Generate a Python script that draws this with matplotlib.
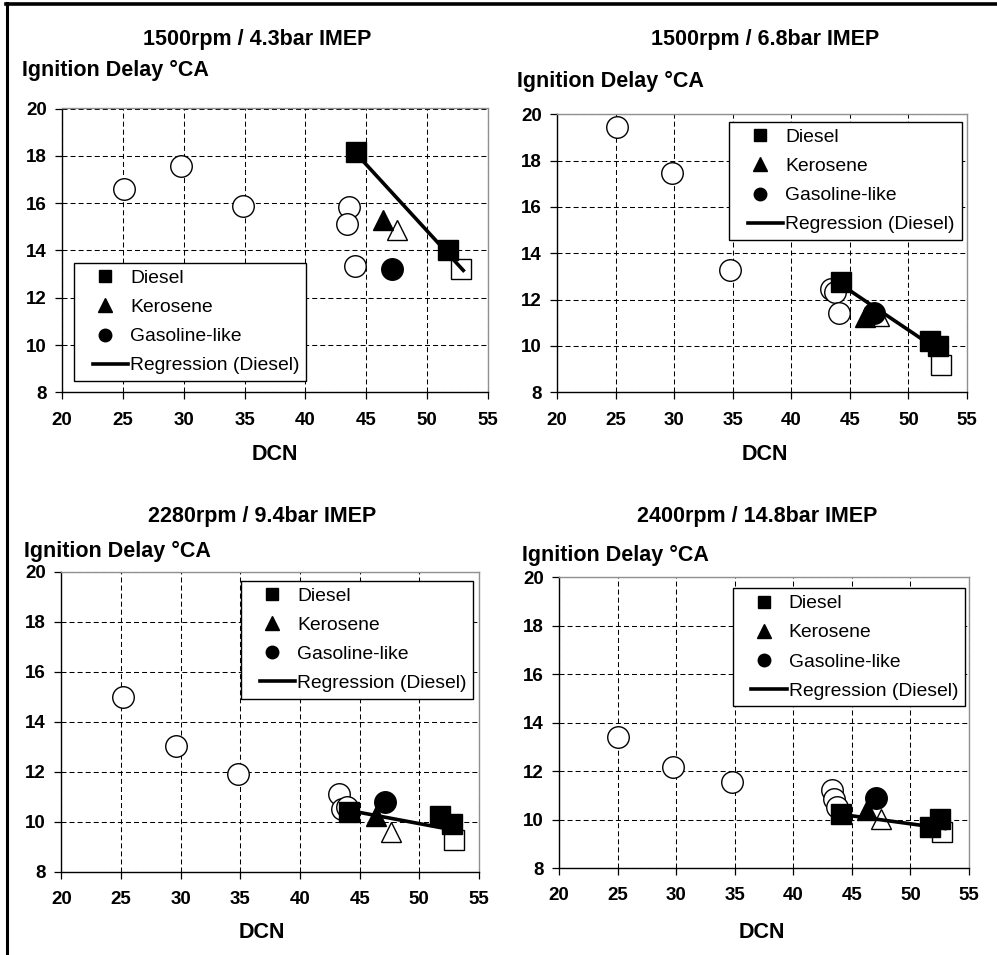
import matplotlib
matplotlib.use("Agg")
import numpy as np
import matplotlib.pyplot as plt
from matplotlib.lines import Line2D
from matplotlib.legend_handler import HandlerLine2D

plt.rcParams['font.family'] = ['Liberation Sans', 'DejaVu Sans']
plt.rcParams['lines.scale_dashes'] = False

W, H = 997, 955

titles = ["1500rpm / 4.3bar IMEP", "1500rpm / 6.8bar IMEP",
          "2280rpm / 9.4bar IMEP", "2400rpm / 14.8bar IMEP"]
ylabel_text = "Ignition Delay °CA"
xlabel_text = "DCN"
x_ticks = [20, 25, 30, 35, 40, 45, 50, 55]
y_ticks = [8, 10, 12, 14, 16, 18, 20]
legend_labels = ["Diesel", "Kerosene", "Gasoline-like", "Regression (Diesel)"]

# Panel 1: 1500rpm / 4.3bar
p1_open_circle_x = [25.1, 29.8, 34.85, 43.6, 43.4, 44.1]
p1_open_circle_y = [16.6, 17.56, 15.9, 15.84, 15.12, 13.33]
p1_open_square_x = [52.8]
p1_open_square_y = [13.2]
p1_open_tri_x = [47.55]
p1_open_tri_y = [14.85]
p1_diesel_x = [44.16, 51.7]
p1_diesel_y = [18.15, 14.04]
p1_kero_x = [46.4]
p1_kero_y = [15.3]
p1_gas_x = [47.1]
p1_gas_y = [13.2]
p1_reg_x = [44.16, 52.97]
p1_reg_y = [18.1, 13.16]

# Panel 2: 1500rpm / 6.8bar
p2_open_circle_x = [25.12, 29.8, 34.8, 43.35, 43.72, 44.1]
p2_open_circle_y = [19.44, 17.47, 13.28, 12.46, 12.34, 11.41]
p2_open_square_x = [52.8]
p2_open_square_y = [9.18]
p2_open_tri_x = [47.5]
p2_open_tri_y = [11.3]
p2_diesel_x = [44.23, 51.8, 52.5]
p2_diesel_y = [12.78, 10.2, 10.0]
p2_kero_x = [46.3]
p2_kero_y = [11.26]
p2_gas_x = [47.1]
p2_gas_y = [11.41]
p2_reg_x = [44.3, 52.96]
p2_reg_y = [12.63, 9.68]

# Panel 3: 2280rpm / 9.4bar
p3_open_circle_x = [25.14, 29.6, 34.77, 43.3, 43.5, 43.96]
p3_open_circle_y = [14.99, 13.02, 11.91, 11.11, 10.5, 10.57]
p3_open_square_x = [52.9]
p3_open_square_y = [9.26]
p3_open_tri_x = [47.6]
p3_open_tri_y = [9.6]
p3_diesel_x = [44.07, 51.7, 52.7]
p3_diesel_y = [10.37, 10.24, 9.9]
p3_kero_x = [46.36]
p3_kero_y = [10.24]
p3_gas_x = [47.1]
p3_gas_y = [10.78]
p3_reg_x = [44.18, 53.1]
p3_reg_y = [10.44, 9.64]

# Panel 4: 2400rpm / 14.8bar
p4_open_circle_x = [25.06, 29.7, 34.76, 43.27, 43.5, 43.75]
p4_open_circle_y = [13.41, 12.15, 11.53, 11.21, 10.85, 10.52]
p4_open_square_x = [52.7]
p4_open_square_y = [9.49]
p4_open_tri_x = [47.53]
p4_open_tri_y = [10.04]
p4_diesel_x = [44.1, 51.66, 52.5]
p4_diesel_y = [10.22, 9.69, 10.04]
p4_kero_x = [46.25]
p4_kero_y = [10.38]
p4_gas_x = [47.05]
p4_gas_y = [10.87]
p4_reg_x = [44.3, 52.94]
p4_reg_y = [10.2, 9.63]

panels = [
    dict(oc=(p1_open_circle_x, p1_open_circle_y), osq=(p1_open_square_x, p1_open_square_y),
         otr=(p1_open_tri_x, p1_open_tri_y), d=(p1_diesel_x, p1_diesel_y),
         k=(p1_kero_x, p1_kero_y), g=(p1_gas_x, p1_gas_y), r=(p1_reg_x, p1_reg_y)),
    dict(oc=(p2_open_circle_x, p2_open_circle_y), osq=(p2_open_square_x, p2_open_square_y),
         otr=(p2_open_tri_x, p2_open_tri_y), d=(p2_diesel_x, p2_diesel_y),
         k=(p2_kero_x, p2_kero_y), g=(p2_gas_x, p2_gas_y), r=(p2_reg_x, p2_reg_y)),
    dict(oc=(p3_open_circle_x, p3_open_circle_y), osq=(p3_open_square_x, p3_open_square_y),
         otr=(p3_open_tri_x, p3_open_tri_y), d=(p3_diesel_x, p3_diesel_y),
         k=(p3_kero_x, p3_kero_y), g=(p3_gas_x, p3_gas_y), r=(p3_reg_x, p3_reg_y)),
    dict(oc=(p4_open_circle_x, p4_open_circle_y), osq=(p4_open_square_x, p4_open_square_y),
         otr=(p4_open_tri_x, p4_open_tri_y), d=(p4_diesel_x, p4_diesel_y),
         k=(p4_kero_x, p4_kero_y), g=(p4_gas_x, p4_gas_y), r=(p4_reg_x, p4_reg_y)),
]

# layout in pixels: left, right, top, bottom
axes_px = [(62, 488, 108.5, 392.5), (557, 967, 114.3, 392.3),
           (61.3, 479, 572, 871.5), (559, 969, 577.3, 868)]
title_px = [(257, 40), (765, 40), (262, 516), (757, 516)]
ylab_px = [(22, 70), (517, 81), (24, 551), (522, 555)]
xlab_px = [(275, 454), (765, 454), (262, 932), (762, 932)]
legend_loc = [("lower left", (0.028, 0.040)), ("upper right", (0.987, 0.973)),
              ("upper right", (0.986, 0.971)), ("upper right", (0.990, 0.963))]


class RegHandler(HandlerLine2D):
    def create_artists(self, legend, orig_handle, xdescent, ydescent, width, height,
                       fontsize, trans):
        arts = super().create_artists(legend, orig_handle, xdescent, ydescent, width,
                                      height, fontsize, trans)
        line = arts[0]
        n = len(line.get_xdata())
        line.set_xdata(np.linspace(-xdescent + 0.25 * width, width - xdescent - 0.02 * width, n))
        return arts


fig = plt.figure(figsize=(W / 100, H / 100), dpi=100)
fig.patch.set_facecolor('white')

ms_sq, ms_ci, ms_tr = 14.5, 15.5, 15
for i, p in enumerate(panels):
    l, r, t, b = axes_px[i]
    ax = fig.add_axes([l / W, 1 - b / H, (r - l) / W, (b - t) / H])
    ax.set_xlim(20, 55)
    ax.set_ylim(8, 20)
    ax.set_xticks(x_ticks)
    ax.set_yticks(y_ticks)
    ax.grid(True, color='black', linestyle=(0, (3.6, 2.2)), linewidth=0.75)
    ax.set_axisbelow(True)
    for s in ['top', 'right']:
        ax.spines[s].set_color('#909090')
        ax.spines[s].set_linewidth(1.0)
    for s in ['left', 'bottom']:
        ax.spines[s].set_color('black')
        ax.spines[s].set_linewidth(1.0)
    ax.tick_params(axis='both', direction='out', length=5, width=0.9,
                   labelsize=13.5, top=False, right=False)
    ax.tick_params(axis='y', pad=6)
    ax.tick_params(axis='x', pad=9)
    for lab in ax.get_xticklabels() + ax.get_yticklabels():
        lab.set_fontweight('bold')

    ax.plot(*p['oc'], linestyle='none', marker='o', ms=ms_ci, mfc='white', mec='black', mew=1.0, zorder=3)
    ax.plot(*p['osq'], linestyle='none', marker='s', ms=ms_sq, mfc='white', mec='black', mew=1.0, zorder=3)
    ax.plot(*p['otr'], linestyle='none', marker='^', ms=ms_tr, mfc='white', mec='black', mew=1.0, zorder=3)
    ax.plot(*p['d'], linestyle='none', marker='s', ms=ms_sq, mfc='black', mec='black', mew=1.0, zorder=4)
    ax.plot(*p['k'], linestyle='none', marker='^', ms=ms_tr, mfc='black', mec='black', mew=1.0, zorder=4)
    ax.plot(*p['g'], linestyle='none', marker='o', ms=ms_ci, mfc='black', mec='black', mew=1.0, zorder=4)
    ax.plot(*p['r'], color='black', linewidth=2.6, zorder=5)

    h_d = Line2D([], [], linestyle='none', marker='s', ms=9, color='black')
    h_k = Line2D([], [], linestyle='none', marker='^', ms=9.5, color='black')
    h_g = Line2D([], [], linestyle='none', marker='o', ms=9, color='black')
    h_r = Line2D([], [], color='black', linewidth=2.6)
    loc, anchor = legend_loc[i]
    leg = ax.legend([h_d, h_k, h_g, h_r], legend_labels, loc=loc, bbox_to_anchor=anchor,
                    borderaxespad=0, fontsize=13.9, frameon=True, fancybox=False,
                    framealpha=1, edgecolor='black', handlelength=2.5, handletextpad=0.05,
                    labelspacing=0.6, borderpad=0.35, numpoints=1,
                    handler_map={h_r: RegHandler()})
    leg.get_frame().set_linewidth(1.0)
    leg.set_zorder(10)

    fig.text(title_px[i][0] / W, 1 - title_px[i][1] / H, titles[i], ha='center', va='center',
             fontsize=15.5, fontweight='bold')
    fig.text(ylab_px[i][0] / W, 1 - ylab_px[i][1] / H, ylabel_text, ha='left', va='center',
             fontsize=15.5, fontweight='bold')
    fig.text(xlab_px[i][0] / W, 1 - xlab_px[i][1] / H, xlabel_text, ha='center', va='center',
             fontsize=15.5, fontweight='bold')

# outer frame (left and top)
fig.add_artist(Line2D([7 / W, 7 / W], [0, 1 - 3.5 / H], color='black', linewidth=2.2,
                      transform=fig.transFigure))
fig.add_artist(Line2D([6 / W, 1], [1 - 4 / H, 1 - 4 / H], color='black', linewidth=2.6,
                      transform=fig.transFigure))

fig.savefig("out.png", dpi=100, facecolor='white')
